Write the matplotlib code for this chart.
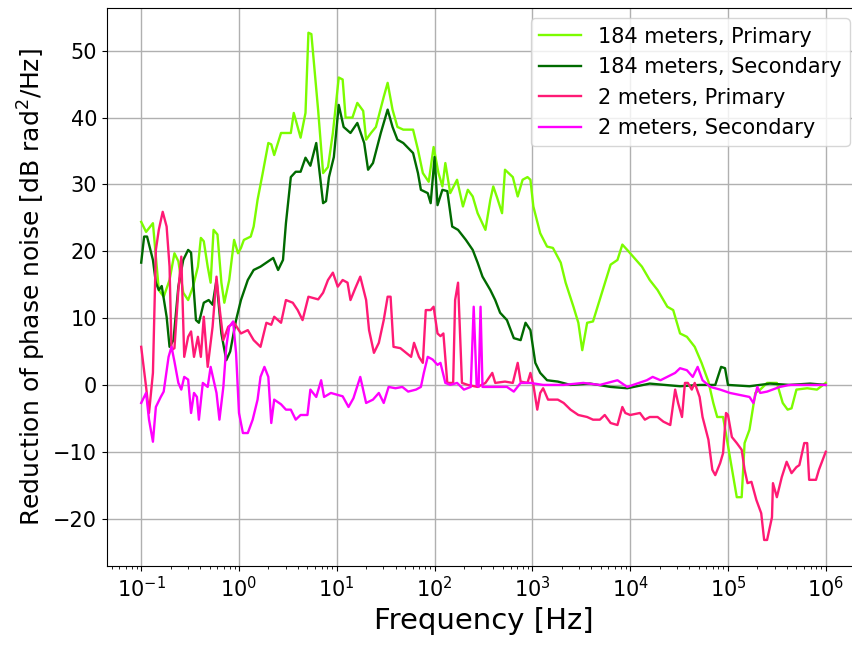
import numpy as np
import matplotlib
matplotlib.use("Agg")
import matplotlib.pyplot as plt

# log10 of frequency [Hz] and reduction [dB rad^2/Hz]
lf_184p = [-1.00, -0.95, -0.88, -0.85, -0.82, -0.77, -0.71, -0.66, -0.62, -0.57,
           -0.52, -0.47, -0.42, -0.39, -0.36, -0.32, -0.29, -0.26, -0.22, -0.18,
           -0.15, -0.10, -0.05, -0.01, 0.02, 0.05, 0.12, 0.15, 0.19, 0.24,
           0.30, 0.33, 0.36, 0.43, 0.53, 0.56, 0.63, 0.68, 0.71, 0.74,
           0.81, 0.86, 0.91, 0.96, 1.02, 1.06, 1.09, 1.16, 1.21, 1.27,
           1.30, 1.35, 1.40, 1.48, 1.52, 1.57, 1.62, 1.68, 1.78, 1.83,
           1.88, 1.94, 1.99, 2.04, 2.08, 2.11, 2.16, 2.23, 2.29, 2.34,
           2.39, 2.44, 2.52, 2.57, 2.60, 2.64, 2.69, 2.72, 2.80, 2.85,
           2.90, 2.95, 2.98, 3.01, 3.08, 3.15, 3.21, 3.29, 3.34, 3.42,
           3.47, 3.51, 3.56, 3.62, 3.72, 3.80, 3.87, 3.92, 3.97, 4.03,
           4.12, 4.20, 4.28, 4.38, 4.44, 4.51, 4.58, 4.66, 4.73, 4.80,
           4.85, 4.89, 4.95, 5.02, 5.09, 5.14, 5.17, 5.22, 5.28, 5.33,
           5.40, 5.50, 5.56, 5.61, 5.65, 5.70, 5.81, 5.91, 6.00]
db_184p = [24.4, 22.9, 24.2, 19.2, 14.2, 13.2, 15.7, 19.7, 18.5, 13.8,
           12.7, 14.7, 17.7, 22.0, 21.5, 17.7, 15.3, 23.2, 22.5, 15.3,
           12.3, 15.7, 21.7, 19.7, 20.5, 21.7, 22.2, 23.7, 27.7, 31.5,
           36.2, 36.0, 34.4, 37.7, 37.7, 40.7, 37.0, 40.7, 52.7, 52.5,
           41.0, 31.7, 32.6, 37.7, 46.0, 45.7, 40.0, 40.0, 42.2, 41.0,
           36.7, 37.7, 38.6, 43.1, 45.2, 41.2, 38.6, 38.2, 38.2, 35.2,
           31.7, 30.4, 35.6, 31.7, 29.7, 33.2, 28.7, 30.7, 26.7, 29.2,
           28.2, 25.7, 23.2, 27.7, 29.7, 28.0, 25.7, 32.2, 31.1, 28.2,
           30.7, 31.1, 30.7, 26.7, 22.7, 20.7, 20.5, 18.3, 15.3, 11.7,
           9.3, 5.2, 9.3, 9.5, 14.2, 18.0, 18.7, 21.0, 20.2, 19.2,
           17.7, 15.7, 14.2, 11.7, 11.2, 7.7, 7.2, 5.7, 3.3, 0.5,
           -2.7, -4.8, -4.8, -10.8, -16.8, -16.8, -8.7, -6.7, -1.2, -0.7,
           0.3, 0.3, -2.7, -3.7, -3.5, -0.7, -0.5, -0.7, 0.3]

lf_184s = [-1.00, -0.97, -0.94, -0.88, -0.85, -0.82, -0.79, -0.74, -0.71, -0.67,
           -0.62, -0.57, -0.52, -0.49, -0.44, -0.41, -0.36, -0.31, -0.27, -0.23,
           -0.18, -0.13, -0.09, -0.03, 0.02, 0.09, 0.15, 0.22, 0.30, 0.35,
           0.40, 0.45, 0.48, 0.53, 0.58, 0.63, 0.68, 0.73, 0.79, 0.86,
           0.89, 0.92, 0.97, 1.02, 1.07, 1.14, 1.21, 1.28, 1.32, 1.37,
           1.45, 1.52, 1.57, 1.62, 1.68, 1.78, 1.83, 1.86, 1.93, 1.96,
           2.00, 2.03, 2.08, 2.13, 2.18, 2.24, 2.32, 2.39, 2.44, 2.49,
           2.57, 2.62, 2.67, 2.74, 2.81, 2.88, 2.93, 2.98, 3.03, 3.08,
           3.15, 3.26, 3.39, 3.59, 3.80, 3.97, 4.20, 4.51, 4.71, 4.87,
           4.93, 4.97, 5.00, 5.22, 5.43, 5.63, 5.84, 6.00]
db_184s = [18.3, 22.2, 22.2, 18.7, 15.3, 14.2, 14.8, 10.2, 5.7, 6.7,
           14.7, 18.7, 20.2, 19.8, 9.7, 9.3, 12.3, 12.7, 12.0, 15.7,
           7.7, 3.7, 5.0, 9.7, 12.7, 15.7, 17.2, 17.7, 18.5, 19.0,
           17.2, 18.7, 24.2, 31.1, 31.9, 31.9, 34.0, 32.8, 36.2, 27.2,
           27.5, 31.1, 34.1, 41.9, 38.6, 37.7, 39.2, 36.2, 32.2, 33.2,
           37.7, 41.2, 38.6, 36.7, 36.2, 34.7, 31.7, 29.2, 28.7, 27.2,
           34.1, 26.9, 29.2, 29.0, 23.7, 23.2, 21.7, 20.2, 18.3, 16.2,
           14.2, 12.7, 10.8, 9.7, 7.0, 6.7, 9.3, 8.2, 3.3, 1.8,
           0.7, 0.5, 0.0, 0.2, -0.3, -0.5, 0.2, -0.2, 0.0, 0.0,
           2.7, 2.5, 0.0, -0.2, 0.2, 0.0, 0.2, 0.0]

lf_2p = [-1.00, -0.95, -0.92, -0.88, -0.85, -0.82, -0.78, -0.74, -0.71, -0.69,
         -0.66, -0.62, -0.59, -0.56, -0.52, -0.49, -0.46, -0.42, -0.39, -0.36,
         -0.32, -0.27, -0.23, -0.20, -0.16, -0.11, -0.05, 0.02, 0.09, 0.15,
         0.22, 0.28, 0.33, 0.36, 0.43, 0.48, 0.55, 0.60, 0.65, 0.71,
         0.81, 0.86, 0.91, 0.96, 1.01, 1.06, 1.11, 1.14, 1.19, 1.24,
         1.30, 1.33, 1.38, 1.43, 1.48, 1.52, 1.55, 1.58, 1.65, 1.76,
         1.79, 1.84, 1.88, 1.91, 1.96, 1.99, 2.03, 2.06, 2.09, 2.13,
         2.19, 2.21, 2.24, 2.28, 2.34, 2.44, 2.52, 2.59, 2.62, 2.72,
         2.80, 2.85, 2.88, 2.95, 2.98, 3.01, 3.05, 3.08, 3.11, 3.16,
         3.26, 3.32, 3.39, 3.47, 3.56, 3.62, 3.69, 3.74, 3.80, 3.87,
         3.92, 3.95, 4.00, 4.10, 4.15, 4.20, 4.28, 4.34, 4.41, 4.46,
         4.49, 4.53, 4.56, 4.59, 4.63, 4.66, 4.71, 4.74, 4.80, 4.84,
         4.87, 4.92, 4.95, 4.98, 5.00, 5.04, 5.09, 5.14, 5.17, 5.20,
         5.24, 5.29, 5.34, 5.37, 5.40, 5.45, 5.46, 5.50, 5.55, 5.60,
         5.65, 5.70, 5.73, 5.78, 5.81, 5.83, 5.90, 5.93, 6.00]
db_2p = [5.7, -0.3, -4.2, 1.8, 20.2, 23.2, 25.9, 23.7, 17.7, 5.2,
         5.5, 14.2, 19.2, 4.2, 7.2, 8.0, 4.2, 7.2, 4.2, 10.2,
         2.7, 8.7, 16.2, 11.7, 6.7, 8.7, 9.3, 7.7, 8.2, 6.7,
         5.7, 9.3, 9.0, 10.2, 9.3, 12.7, 12.3, 11.2, 9.7, 13.2,
         12.8, 13.8, 15.7, 16.8, 14.7, 15.7, 15.3, 12.7, 14.5, 16.2,
         12.7, 8.2, 4.8, 6.3, 9.7, 13.2, 13.2, 5.7, 5.5, 4.2,
         6.3, 4.2, 3.3, 11.2, 11.2, 11.7, 7.7, 7.3, 7.7, 0.3,
         0.3, 12.7, 15.3, 0.3, 0.0, -0.3, 0.3, 1.8, 0.3, 0.5,
         0.3, 3.3, 0.5, 0.3, 1.8, 0.0, -3.7, -1.2, -0.5, -2.2,
         -2.2, -2.7, -3.7, -4.5, -4.8, -5.2, -5.2, -4.5, -5.7, -6.0,
         -3.3, -4.2, -4.5, -4.2, -5.2, -4.8, -4.8, -5.5, -6.0, -0.7,
         -2.7, -4.8, 0.3, 0.3, -0.7, 0.3, -1.8, -4.8, -8.2, -12.7,
         -13.5, -11.7, -10.2, -4.2, -4.5, -7.8, -8.7, -9.7, -12.7, -14.7,
         -14.5, -17.2, -19.2, -23.2, -23.2, -19.8, -14.7, -16.8, -13.8, -11.5,
         -13.2, -12.3, -12.0, -8.7, -8.7, -14.2, -14.2, -12.7, -10.0]

lf_2s = [-1.00, -0.95, -0.92, -0.88, -0.85, -0.80, -0.77, -0.72, -0.69, -0.66,
         -0.62, -0.59, -0.56, -0.52, -0.49, -0.46, -0.43, -0.41, -0.37, -0.32,
         -0.29, -0.23, -0.20, -0.16, -0.13, -0.10, -0.06, -0.03, 0.00, 0.04,
         0.09, 0.14, 0.19, 0.22, 0.26, 0.30, 0.33, 0.36, 0.43, 0.48,
         0.53, 0.58, 0.63, 0.70, 0.73, 0.79, 0.84, 0.87, 0.94, 1.01,
         1.06, 1.12, 1.17, 1.24, 1.30, 1.37, 1.43, 1.48, 1.53, 1.60,
         1.67, 1.73, 1.81, 1.86, 1.89, 1.93, 1.98, 2.03, 2.06, 2.11,
         2.16, 2.23, 2.30, 2.37, 2.40, 2.43, 2.45, 2.47, 2.49, 2.54,
         2.64, 2.74, 2.81, 2.88, 2.98, 3.11, 3.32, 3.52, 3.69, 3.87,
         3.97, 4.17, 4.23, 4.31, 4.46, 4.51, 4.58, 4.64, 4.69, 4.74,
         4.82, 4.92, 5.02, 5.12, 5.22, 5.26, 5.30, 5.33, 5.40, 5.53,
         5.63, 6.00]
db_2s = [-2.7, -1.2, -5.2, -8.5, -3.3, -1.8, -1.0, 4.2, 5.7, 3.5,
         0.3, -0.7, 1.2, 0.8, -4.2, -1.2, -1.8, -5.2, 0.3, -0.3,
         2.7, -1.2, -5.2, -0.3, 5.7, 8.7, 9.5, 4.8, -4.2, -7.2,
         -7.2, -5.2, -2.2, 1.2, 2.7, 1.2, -5.7, -2.2, -2.9, -3.7,
         -3.7, -5.2, -4.5, -4.5, -0.7, -1.8, 0.7, -1.8, -1.2, -1.5,
         -1.7, -3.3, -2.0, 1.2, -2.7, -2.2, -1.2, -2.7, -0.3, -0.5,
         -0.3, -1.0, -0.7, -0.3, 1.8, 4.2, 3.8, 3.0, 3.3, 0.3,
         0.0, 0.3, -0.7, -0.3, 11.7, 0.0, -0.3, 11.7, -0.3, -0.3,
         -0.3, -0.3, -1.0, 0.3, 0.3, 0.0, 0.0, 0.3, 0.0, 0.7,
         -0.3, 0.7, 1.2, 0.7, 1.8, 2.5, 2.2, 1.2, 2.7, 0.7,
         -0.3, -0.7, -1.2, -1.5, -1.8, -2.7, -0.3, -1.2, -1.0, -0.3,
         0.0, 0.0]

labels = ["184 meters, Primary", "184 meters, Secondary",
          "2 meters, Primary", "2 meters, Secondary"]
colors = ["#7CFC00", "#006A00", "#FF1A75", "#FF00FF"]

fig = plt.figure(figsize=(8.53, 6.46), dpi=100)
ax = fig.add_axes([0.1254, 0.1238, 0.8828, 0.8638])

series = [(lf_184p, db_184p), (lf_184s, db_184s), (lf_2p, db_2p), (lf_2s, db_2s)]
for (lf, db), lab, c in zip(series, labels, colors):
    ax.plot(10 ** np.array(lf), db, color=c, lw=1.7, label=lab)

ax.set_xscale("log")
ax.set_xlim(10 ** -1.35, 10 ** 6.35)
ax.set_ylim(-27.1, 56.4)
ax.set_xticks([10.0 ** k for k in range(-1, 7)])
ax.grid(True, which="major", color="#b0b0b0", lw=1)
ax.tick_params(labelsize=15)
ax.set_xlabel("Frequency [Hz]", fontsize=21)
ax.set_ylabel("Reduction of phase noise [dB rad$^2$/Hz]", fontsize=18)
ax.legend(loc="upper right", fontsize=15)

fig.savefig("out.png", dpi=100)
